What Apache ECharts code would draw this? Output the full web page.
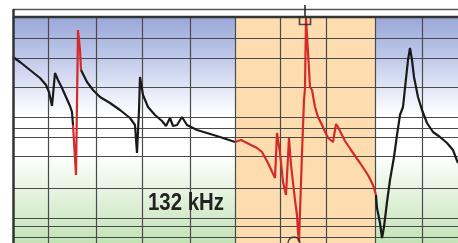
<!DOCTYPE html>
<html>
<head>
<meta charset="utf-8">
<script src="https://cdn.jsdelivr.net/npm/echarts@6/dist/echarts.min.js"></script>
<style>html,body{margin:0;padding:0;background:#fff;}#c{width:458px;height:243px;}</style>
</head>
<body>
<div id="c"></div>
<script>
// x: position along the sweep, y: level (chart units)
const blackA = [[0,186],[7,181],[17,173],[27,165],[33,158],[36,151],[39,137],[42,170],[45,163],[49,155],[53,146],[57,137],[59,131],[60,118]];
const redA = [[60,118],[63,68],[65,213],[67,193],[68,173]];
const blackB = [[68,173],[74,161],[80,153],[87,146],[97,140],[107,133],[117,125],[122,118],[124,90],[126,133],[127,166],[130,148],[135,136],[142,128],[149,122],[153,117],[157,125],[160,117],[164,118],[169,126],[174,118],[184,113],[194,110],[207,106],[222,101]];
const redB = [[222,101],[228,103],[232,101],[244,95],[249,91],[255,80],[262,65],[264,110],[267,90],[270,61],[273,48],[276,105],[278,78],[282,43],[284,28],[285,11],[286,1],[289,90],[291,143],[292,155],[293,225],[295,225],[297,156],[299,153],[302,136],[305,126],[309,118],[315,105],[320,101],[323,119],[325,116],[329,108],[332,102],[338,93],[347,80],[355,68],[360,58],[363,48]];
const blackC = [[363,48],[364,35],[367,20],[369,5],[371,16],[374,41],[377,63],[381,86],[384,108],[387,128],[390,136],[392,155],[395,183],[397,195],[399,183],[401,166],[405,146],[409,133],[414,120],[420,111],[427,106],[434,100],[440,93],[443,85],[445,80]];
const peakMarker = [[292,223]];
const dipMarker = [[281,0]];
const hLines = [205,185,156,126,115,106,87,55,25,17,6];
const vLines = [35,83,129,177,222,267,313,362,409];
const band = [222,362];
const labelText = '132 kHz';

const chart = echarts.init(document.getElementById('c'));
const LG = echarts.graphic.LinearGradient;
const mkLine = (name, data, color, z) => ({
  type:'line', name, data, showSymbol:false, symbol:'none', z,
  lineStyle:{color, width:2.2}, animation:false, clip:false
});
chart.setOption({
  animation:false,
  grid:{left:13, right:0, top:17, bottom:0},
  xAxis:{type:'value', min:0, max:445, show:false},
  yAxis:{type:'value', min:0, max:226, show:false},
  series:[
    {type:'line', data:[], z:1, silent:true,
      markArea:{silent:true, data:[
        [{yAxis:226, itemStyle:{color:new LG(0,0,0,1,[{offset:0,color:'#9aa8d8'},{offset:0.4,color:'#bdc7e9'},{offset:0.75,color:'#e5e9f7'},{offset:1,color:'#ffffff'}])}},{yAxis:128}],
        [{yAxis:88, itemStyle:{color:new LG(0,0,0,1,[{offset:0,color:'#ffffff'},{offset:0.35,color:'#e9f5e4'},{offset:0.7,color:'#d5ebcc'},{offset:1,color:'#c2e3b6'}])}},{yAxis:0}]
      ]}},
    {type:'line', data:[], z:2, silent:true,
      markArea:{silent:true, itemStyle:{color:'#fddcb0'}, data:[[{xAxis:band[0]},{xAxis:band[1]}]]}},
    {type:'line', data:[], z:3, silent:true,
      markLine:{silent:true, symbol:'none', label:{show:false},
        lineStyle:{color:'#4a4a4a', width:1.2, type:'solid'},
        data: hLines.map(v=>({yAxis:v})).concat(vLines.map(v=>({xAxis:v})))}},
    mkLine('a', blackA, '#1a1a1a', 5),
    mkLine('b', redA, '#d42a2a', 6),
    mkLine('c', blackB, '#1a1a1a', 5),
    mkLine('d', redB, '#d42a2a', 6),
    mkLine('e', blackC, '#1a1a1a', 5),
    {type:'scatter', data:peakMarker, symbol:'rect', symbolSize:[11,9], z:7, clip:false,
      itemStyle:{color:'rgba(0,0,0,0)', borderColor:'#222', borderWidth:1.5}},
    {type:'scatter', data:dipMarker, symbol:'circle', symbolSize:12, z:7, clip:false,
      itemStyle:{color:'rgba(0,0,0,0)', borderColor:'#222', borderWidth:1.5}}
  ],
  graphic:[
    {type:'rect', left:13, top:9, z:50, shape:{width:445, height:8}, style:{fill:'#ffffff'}},
    {type:'line', z:60, shape:{x1:13, y1:9.5, x2:458, y2:9.5}, style:{stroke:'#555', lineWidth:1.5}},
    {type:'line', z:60, shape:{x1:13, y1:17, x2:458, y2:17}, style:{stroke:'#333', lineWidth:2.5}},
    {type:'line', z:60, shape:{x1:13.5, y1:9, x2:13.5, y2:243}, style:{stroke:'#333', lineWidth:2.5}},
    {type:'line', z:61, shape:{x1:305, y1:5, x2:305, y2:16}, style:{stroke:'#222', lineWidth:1.5}},
    {type:'text', z:70, x:148, y:191, scaleX:0.85, style:{text:labelText, fill:'#222', font:'bold 24px "Liberation Sans", sans-serif'}}
  ]
});
</script>
</body>
</html>
